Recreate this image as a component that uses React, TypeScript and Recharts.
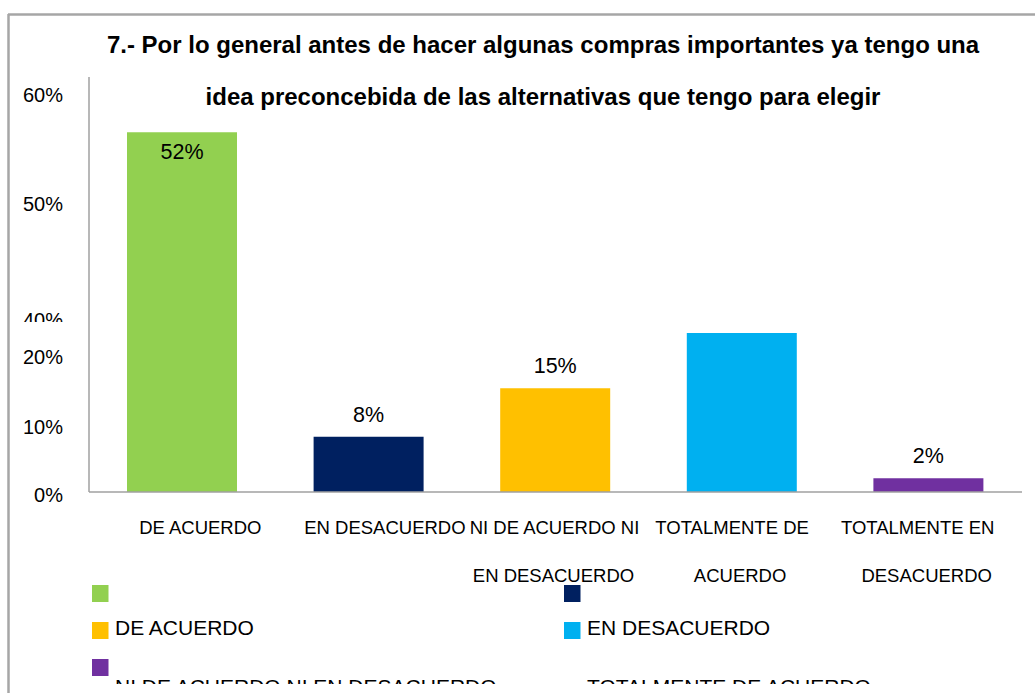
import React from 'react';
import { BarChart, Bar, XAxis, YAxis, Cell, LabelList } from 'recharts';

const categories = [
  'DE ACUERDO',
  'EN DESACUERDO',
  'NI DE ACUERDO NI EN DESACUERDO',
  'TOTALMENTE DE ACUERDO',
  'TOTALMENTE EN DESACUERDO',
];
const values = [52, 8, 15, 23, 2];
const valueLabels = ['52%', '8%', '15%', '', '2%'];
const barColors = ['#92D050', '#002060', '#FFC000', '#00B0F0', '#7030A0'];
const xLabelLines = [
  ['DE ACUERDO'],
  ['EN DESACUERDO'],
  ['NI DE ACUERDO NI', 'EN DESACUERDO'],
  ['TOTALMENTE DE', 'ACUERDO'],
  ['TOTALMENTE EN', 'DESACUERDO'],
];
// the source chart's axis is broken, labels sit at these spots on the scale
const yTickValues = [0, 9.8, 19.9, 25.3, 42.1, 57.8];
const yTickLabels = ['0%', '10%', '20%', '40%', '50%', '60%'];
const titleLines = [
  '7.- Por lo general antes de hacer algunas compras importantes ya tengo una',
  'idea preconcebida de las alternativas que tengo para elegir',
];

const FONT = '"Liberation Sans", Arial, sans-serif';
const W = 1035;
const H = 693;

const chartData = categories.map((name, i) => ({
  name,
  value: values[i],
  label: valueLabels[i],
}));

const xNudge = [18, 16, -1, -10, -11];

const XTick = (props: any) => {
  const { x, y, index } = props;
  const lines = xLabelLines[index] || [];
  return (
    <g>
      {lines.map((ln, i) => (
        <text
          key={i}
          x={x + (i === 0 ? xNudge[index] : -2)}
          y={y + 35 + i * 48}
          textAnchor="middle"
          dominantBaseline="central"
          fontFamily={FONT}
          fontSize={18.5}
          fill="#000"
        >
          {ln}
        </text>
      ))}
    </g>
  );
};

const YTick = (props: any) => {
  const { y, payload } = props;
  const idx = yTickValues.indexOf(payload.value);
  const label = yTickLabels[idx];
  const cut = label === '40%';
  return (
    <g>
      {cut && (
        <defs>
          <clipPath id="cut-tick">
            <rect x={0} y={y - 20} width={89} height={25} />
          </clipPath>
        </defs>
      )}
      <text
        x={63}
        y={y + 3}
        textAnchor="end"
        dominantBaseline="central"
        fontFamily={FONT}
        fontSize={20}
        fill="#000"
        clipPath={cut ? 'url(#cut-tick)' : undefined}
      >
        {label}
      </text>
    </g>
  );
};

const BarLabel = (props: any) => {
  const { x, y, width, height, value } = props;
  if (!value) return null;
  const inside = height > 250;
  return (
    <text
      x={x + width / 2}
      y={inside ? y + 20 : y - 22}
      textAnchor="middle"
      dominantBaseline="central"
      fontFamily={FONT}
      fontSize={21.5}
      fill="#000"
    >
      {value}
    </text>
  );
};

const App: React.FC = () => {
  return (
    <div style={{ position: 'absolute', left: 0, top: 0, width: W, height: H, background: '#fff' }}>
      <BarChart
        width={W}
        height={H}
        data={chartData}
        margin={{ top: 77, right: 13, bottom: 101, left: 0 }}
      >
        <XAxis
          dataKey="name"
          height={100}
          interval={0}
          tickLine={false}
          tickSize={0}
          tickMargin={0}
          axisLine={{ stroke: '#a0a0a0', strokeWidth: 1.5 }}
          tick={<XTick />}
        />
        <YAxis
          width={89}
          domain={[0, 60]}
          ticks={yTickValues}
          interval={0}
          tickLine={false}
          axisLine={{ stroke: '#a0a0a0', strokeWidth: 1.5 }}
          tick={<YTick />}
        />
        <Bar dataKey="value" barSize={110} isAnimationActive={false}>
          {chartData.map((d, i) => (
            <Cell key={d.name} fill={barColors[i]} />
          ))}
          <LabelList dataKey="label" content={<BarLabel />} />
        </Bar>
      </BarChart>

      <svg
        width={W}
        height={H}
        style={{ position: 'absolute', left: 0, top: 0, pointerEvents: 'none' }}
      >
        <defs>
          <clipPath id="legend-clip">
            <rect x={0} y={570} width={W} height={114} />
          </clipPath>
        </defs>
        <line x1={8} y1={14.5} x2={W} y2={14.5} stroke="#a6a6a6" strokeWidth={2.5} />
        <line x1={8.5} y1={14} x2={8.5} y2={H} stroke="#a6a6a6" strokeWidth={2.5} />

        {titleLines.map((t, i) => (
          <text
            key={i}
            x={543}
            y={53 + i * 52}
            textAnchor="middle"
            fontFamily={FONT}
            fontWeight="bold"
            fontSize={24}
            fill="#000"
          >
            {t}
          </text>
        ))}

        <g clipPath="url(#legend-clip)">
          {barColors.map((c, i) => (
            <rect
              key={c}
              x={i % 2 === 0 ? 92 : 564}
              y={585 + Math.floor(i / 2) * 37}
              width={16.5}
              height={17}
              fill={c}
            />
          ))}
          {categories.map((name, i) => (
            <text
              key={name}
              x={i % 2 === 0 ? 115 : 587}
              y={627.5 + Math.floor(i / 2) * 58.5}
              dominantBaseline="central"
              fontFamily={FONT}
              fontSize={21}
              fill="#000"
            >
              {name}
            </text>
          ))}
        </g>
      </svg>
    </div>
  );
};

export default App;
